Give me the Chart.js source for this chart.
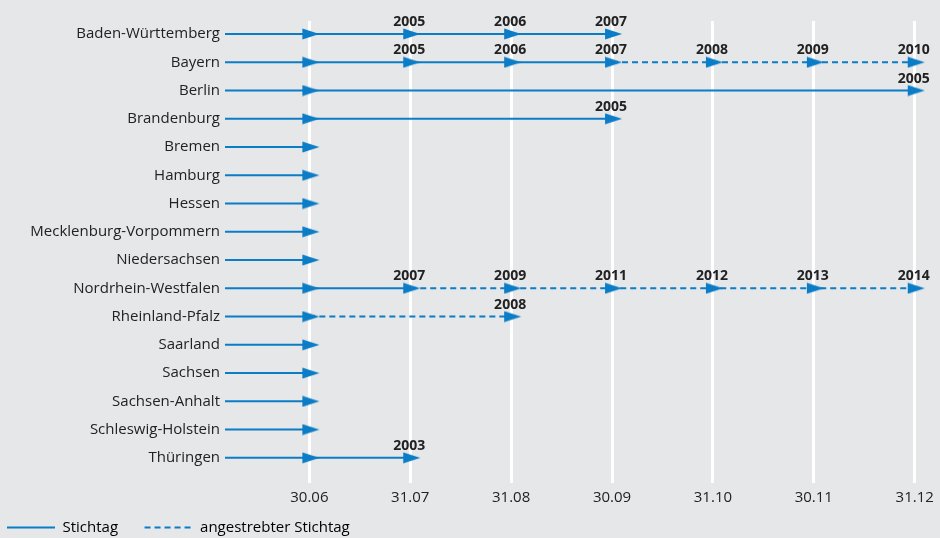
<!DOCTYPE html>
<html>
<head>
<meta charset="utf-8">
<script src="https://cdn.jsdelivr.net/npm/chart.js@4"></script>
<style>
  html, body { margin: 0; padding: 0; background: #e6e7e9; }
  #wrap { width: 940px; height: 538px; }
</style>
</head>
<body>
<div id="wrap"><canvas id="chart"></canvas></div>
<script>
// Bundesländer (top to bottom)
const states = [
  'Baden-Württemberg', 'Bayern', 'Berlin', 'Brandenburg', 'Bremen', 'Hamburg',
  'Hessen', 'Mecklenburg-Vorpommern', 'Niedersachsen', 'Nordrhein-Westfalen',
  'Rheinland-Pfalz', 'Saarland', 'Sachsen', 'Sachsen-Anhalt',
  'Schleswig-Holstein', 'Thüringen'
];

// x axis: Stichtage
const tickLabels = ['30.06', '31.07', '31.08', '30.09', '31.10', '30.11', '31.12'];

// arrows per state: index into tickLabels
const arrowAt = [
  [0, 1, 2, 3],
  [0, 1, 2, 3, 4, 5, 6],
  [0, 6],
  [0, 3],
  [0], [0], [0], [0], [0],
  [0, 1, 2, 3, 4, 5, 6],
  [0, 2],
  [0], [0], [0], [0],
  [0, 1]
];

// year written above each arrow
const arrowYear = [
  [null, '2005', '2006', '2007'],
  [null, '2005', '2006', '2007', '2008', '2009', '2010'],
  [null, '2005'],
  [null, '2005'],
  [null], [null], [null], [null], [null],
  [null, '2007', '2009', '2011', '2012', '2013', '2014'],
  [null, '2008'],
  [null], [null], [null], [null],
  [null, '2003']
];

// from which Stichtag on the line is only "angestrebt" (dashed)
const dashedFrom = [null, 3, null, null, null, null, null, null, null, 1, 0, null, null, null, null, null];

const BLUE = '#0b7cc6';
const X_MIN = -0.836;
const X_MAX = 6.147;

// arrow head as point image
function makeArrow() {
  const c = document.createElement('canvas');
  c.width = 24; c.height = 12;
  const g = c.getContext('2d');
  g.fillStyle = BLUE;
  g.beginPath();
  g.moveTo(5, 0.5);
  g.lineTo(22, 6);
  g.lineTo(5, 11.5);
  g.closePath();
  g.fill();
  return c;
}
const arrow = makeArrow();

const datasets = states.map((s, i) => {
  const pts = [{ x: X_MIN, y: i, year: null }];
  arrowAt[i].forEach((m, k) => pts.push({ x: m, y: i, year: arrowYear[i][k] }));
  return {
    label: s,
    data: pts,
    borderColor: BLUE,
    borderWidth: 2,
    pointStyle: arrow,
    pointRadius: ctx => ctx.dataIndex === 0 ? 0 : 6,
    pointHoverRadius: ctx => ctx.dataIndex === 0 ? 0 : 6,
    segment: {
      borderDash: ctx => (dashedFrom[i] !== null && ctx.p0.parsed.x >= dashedFrom[i]) ? [6, 4] : undefined
    },
    clip: false
  };
});

const yearLabels = {
  id: 'yearLabels',
  afterDatasetsDraw(chart) {
    const ctx = chart.ctx;
    ctx.save();
    ctx.font = 'bold 14px "Open Sans"';
    ctx.fillStyle = '#222';
    ctx.textAlign = 'center';
    ctx.textBaseline = 'alphabetic';
    chart.data.datasets.forEach((ds, i) => {
      chart.getDatasetMeta(i).data.forEach((p, k) => {
        const yr = ds.data[k].year;
        if (yr) ctx.fillText(yr, p.x - 1, p.y - 8);
      });
    });
    ctx.restore();
  }
};

new Chart(document.getElementById('chart'), {
  type: 'line',
  data: { datasets },
  plugins: [yearLabels],
  options: {
    responsive: true,
    maintainAspectRatio: false,
    animation: false,
    layout: { padding: { top: 21, right: 5, left: 0, bottom: -7 } },
    plugins: {
      tooltip: { enabled: false },
      legend: {
        position: 'bottom',
        align: 'start',
        onClick: null,
        labels: {
          color: '#222',
          font: { family: 'Open Sans', size: 15 },
          boxWidth: 48,
          boxHeight: 0,
          padding: 7,
          generateLabels: () => [
            { text: 'Stichtag\u00a0\u00a0\u00a0\u00a0\u00a0', fillStyle: 'transparent', strokeStyle: BLUE, lineWidth: 2, lineDash: [], hidden: false },
            { text: 'angestrebter Stichtag', fillStyle: 'transparent', strokeStyle: BLUE, lineWidth: 2, lineDash: [6, 4], hidden: false }
          ]
        }
      }
    },
    scales: {
      x: {
        type: 'linear',
        min: X_MIN,
        max: X_MAX,
        afterBuildTicks: scale => { scale.ticks = tickLabels.map((_, i) => ({ value: i })); },
        ticks: {
          callback: v => tickLabels[v],
          color: '#222',
          font: { family: 'Open Sans', size: 15 },
          padding: 6,
          maxRotation: 0,
          autoSkip: false
        },
        grid: { color: '#ffffff', lineWidth: 3, drawTicks: false },
        border: { display: false }
      },
      y: {
        type: 'linear',
        reverse: true,
        min: -0.46,
        max: 15.89,
        afterBuildTicks: scale => { scale.ticks = states.map((_, i) => ({ value: i })); },
        afterFit: scale => { scale.width = 225; },
        ticks: {
          callback: v => states[v],
          color: '#222',
          font: { family: 'Open Sans', size: 15 },
          padding: 5,
          autoSkip: false
        },
        grid: { display: false, drawTicks: false },
        border: { display: false }
      }
    }
  }
});
</script>
</body>
</html>
